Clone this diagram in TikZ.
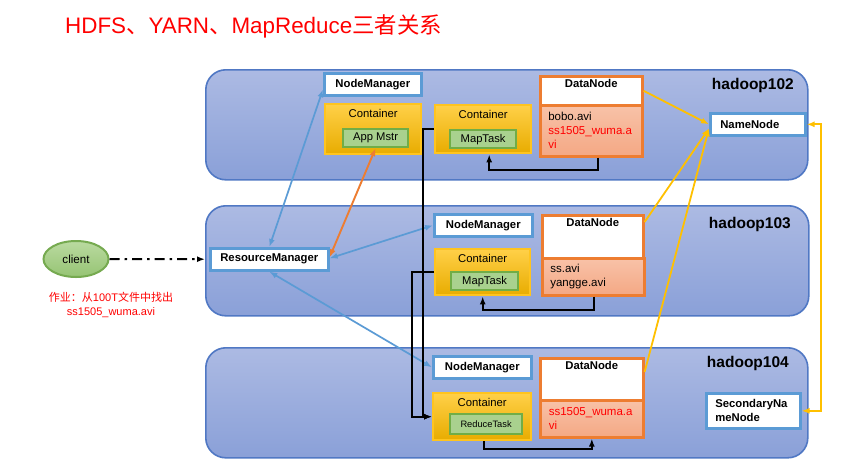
\documentclass[tikz,border=0pt]{standalone}
\usepackage{fontspec}
\setmainfont{Liberation Sans}
\newfontfamily\cjk{Noto Sans CJK SC}
\usetikzlibrary{arrows.meta,shapes.geometric}

\definecolor{hosttop}{RGB}{172,186,227}
\definecolor{hostbot}{RGB}{138,160,216}
\definecolor{hostline}{RGB}{80,120,196}
\definecolor{nmline}{RGB}{91,155,213}
\definecolor{conttop}{RGB}{255,208,72}
\definecolor{contbot}{RGB}{232,172,0}
\definecolor{contline}{RGB}{255,196,30}
\definecolor{taskfill}{RGB}{169,209,142}
\definecolor{taskline}{RGB}{112,173,71}
\definecolor{dnline}{RGB}{237,125,49}
\definecolor{dntop}{RGB}{248,194,168}
\definecolor{dnbot}{RGB}{244,168,132}
\definecolor{nnline}{RGB}{255,192,0}
\definecolor{clienttop}{RGB}{186,218,160}
\definecolor{clientbot}{RGB}{150,196,116}
\definecolor{clientline}{RGB}{118,170,80}

\begin{document}
\begin{tikzpicture}[x=1pt,y=-1pt,
    >={Latex[length=8pt,width=6pt]},
    sz/.style 2 args={minimum width=#1pt,minimum height=#2pt},
    host/.style={draw=hostline,line width=1.6pt,rounded corners=20pt,top color=hosttop,bottom color=hostbot,anchor=north west,inner sep=0pt},
    hostlabel/.style={anchor=east,inner sep=0pt,font=\fontsize{15.5}{18}\selectfont\bfseries},
    whitebox/.style={draw=nmline,line width=2.6pt,fill=white,anchor=north west,inner sep=2pt,font=\fontsize{11.3}{14}\selectfont\bfseries},
    container/.style={draw=contline,line width=2.4pt,top color=conttop,bottom color=contbot,anchor=north west,
      label={[anchor=north,inner sep=0pt,yshift=-6pt,font=\fontsize{11.3}{14}\selectfont]north:Container}},
    task/.style={draw=taskline,fill=taskfill,line width=2.2pt,anchor=north west,inner sep=0pt,font=\fontsize{11.2}{14}\selectfont},
    dnhead/.style={draw=dnline,line width=2.6pt,fill=white,anchor=north west,
      label={[anchor=north,inner sep=0pt,yshift=-4.5pt,font=\fontsize{11.3}{14}\selectfont\bfseries]north:DataNode}},
    dnfiles/.style={draw=dnline,line width=2.6pt,top color=dntop,bottom color=dnbot,anchor=north west,
      align=left,text width=86pt,inner xsep=8pt,inner ysep=0pt,font=\fontsize{11.5}{14}\selectfont},
    clientnode/.style={ellipse,draw=clientline,line width=2pt,top color=clienttop,bottom color=clientbot,
      minimum width=65pt,minimum height=36pt,font=\fontsize{11.6}{14}\selectfont},
    conn/.style={draw=black,line width=2pt},
    bl/.style={draw=nmline,line width=1.7pt},
    ol/.style={draw=dnline,line width=1.9pt},
    yl/.style={draw=nnline,line width=1.8pt}]
  \fill[white] (0,0) rectangle (842,469);
  \useasboundingbox (0,0) rectangle (842,469);

  \node[anchor=base west,inner sep=0pt,text=red,font=\fontsize{22.4}{27}\selectfont] (title) at (65,33)
    {HDFS{\cjk 、}YARN{\cjk 、}MapReduce{\cjk 三者关系}};

  \node[host,sz={602}{110}] (h102) at (205,69) {};
  \node[host,sz={603}{110}] (h103) at (205,205) {};
  \node[host,sz={602}{110}] (h104) at (205,347) {};
  \node[hostlabel] (h102l) at (794,85) {hadoop102};
  \node[hostlabel] (h103l) at (791,224) {hadoop103};
  \node[hostlabel] (h104l) at (789,363) {hadoop104};

  \node[clientnode] (client) at (76,259) {client};
  \node[align=center,inner sep=0pt,text=red,font=\fontsize{11}{14}\selectfont] (job) at (111,305)
    {{\cjk 作业：从}100T{\cjk 文件中找出}\\ss1505\_wuma.avi};

  \node[whitebox,sz={118}{22}] (rm) at (209,247) {ResourceManager};
  \node[whitebox,sz={97}{22}] (nm102) at (323,72) {NodeManager};
  \node[whitebox,sz={98}{22}] (nm103) at (433,213) {NodeManager};
  \node[whitebox,sz={98}{22}] (nm104) at (432,355) {NodeManager};
  \node[whitebox,sz={95}{22},align=left,text width=75pt,inner xsep=10pt] (nn) at (709,112) {NameNode};
  \node[whitebox,sz={94}{35},align=left,text width=76pt,inner xsep=9pt,inner ysep=0pt] (snn) at (705,392) {SecondaryNa\\meNode};

  \node[container,sz={96}{50}] (am) at (324,103) {};
  \node[task,sz={65}{18}] (amtask) at (342,128) {App Mstr};
  \node[container,sz={96}{48}] (c102) at (434,104) {};
  \node[task,sz={66}{18}] (mt102) at (449,129) {MapTask};
  \node[container,sz={95}{46}] (c103) at (434,248) {};
  \node[task,sz={67}{18}] (mt103) at (450,271) {MapTask};
  \node[container,sz={98}{47}] (c104) at (432,392) {};
  \node[task,sz={72}{20},font=\fontsize{9.3}{12}\selectfont] (rt104) at (449,413) {ReduceTask};

  \node[dnhead,sz={102}{29}] (dn102t) at (539,75) {};
  \node[dnfiles,sz={102}{51}] (dn102b) at (539,104) {bobo.avi\\\textcolor{red}{ss1505\_wuma.a}\\\textcolor{red}{vi}};
  \node[dnhead,sz={101}{43}] (dn103t) at (541,214) {};
  \node[dnfiles,sz={101}{37}] (dn103b) at (541,257) {ss.avi\\yangge.avi};
  \node[dnhead,sz={103}{42}] (dn104t) at (539,357) {};
  \node[dnfiles,sz={103}{37}] (dn104b) at (539,399) {\textcolor{red}{ss1505\_wuma.a}\\\textcolor{red}{vi}};

  \draw[line width=1.9pt,->,dash pattern=on 10pt off 5pt on 2.5pt off 5pt,shorten >=4pt] (client) -- (rm);
  \draw[bl,<->] (rm.north) -- ([yshift=-5pt]nm102.west);
  \draw[ol,<->] ([yshift=2pt]rm.east) -- (amtask.south);
  \draw[bl,<->] ([yshift=1pt]rm.east) -- (nm103.west);
  \draw[bl,<->] (rm.south) -- (nm104.west);

  \draw[conn,->] (c102.west) -- ++(-11,0) |- (c104.west);
  \draw[conn,->] (c103.west) -- ++(-22,0) |- (c104.west);
  \draw[conn,->] ([xshift=7pt]dn102b.south) -- ++(0,12) -| ([xshift=6pt]c102.south);
  \draw[conn,->] ([xshift=1pt]dn103b.south) -- ++(0,13) -| (c103.south);
  \draw[conn,->] ([xshift=2pt]c104.south) -- ++(0,8) -| (dn104b.south);

  \draw[yl,->] (dn102t.east) -- (nn.west);
  \draw[yl,->] ([yshift=-8pt]dn103t.north east) -- ([yshift=-4pt]nn.west);
  \draw[yl,->] ([yshift=-15pt]dn104t.north east) -- ([yshift=-4pt]nn.west);
  \draw[yl,<->] (nn.east) -- ++(14,0) |- (snn.east);
\end{tikzpicture}
\end{document}
